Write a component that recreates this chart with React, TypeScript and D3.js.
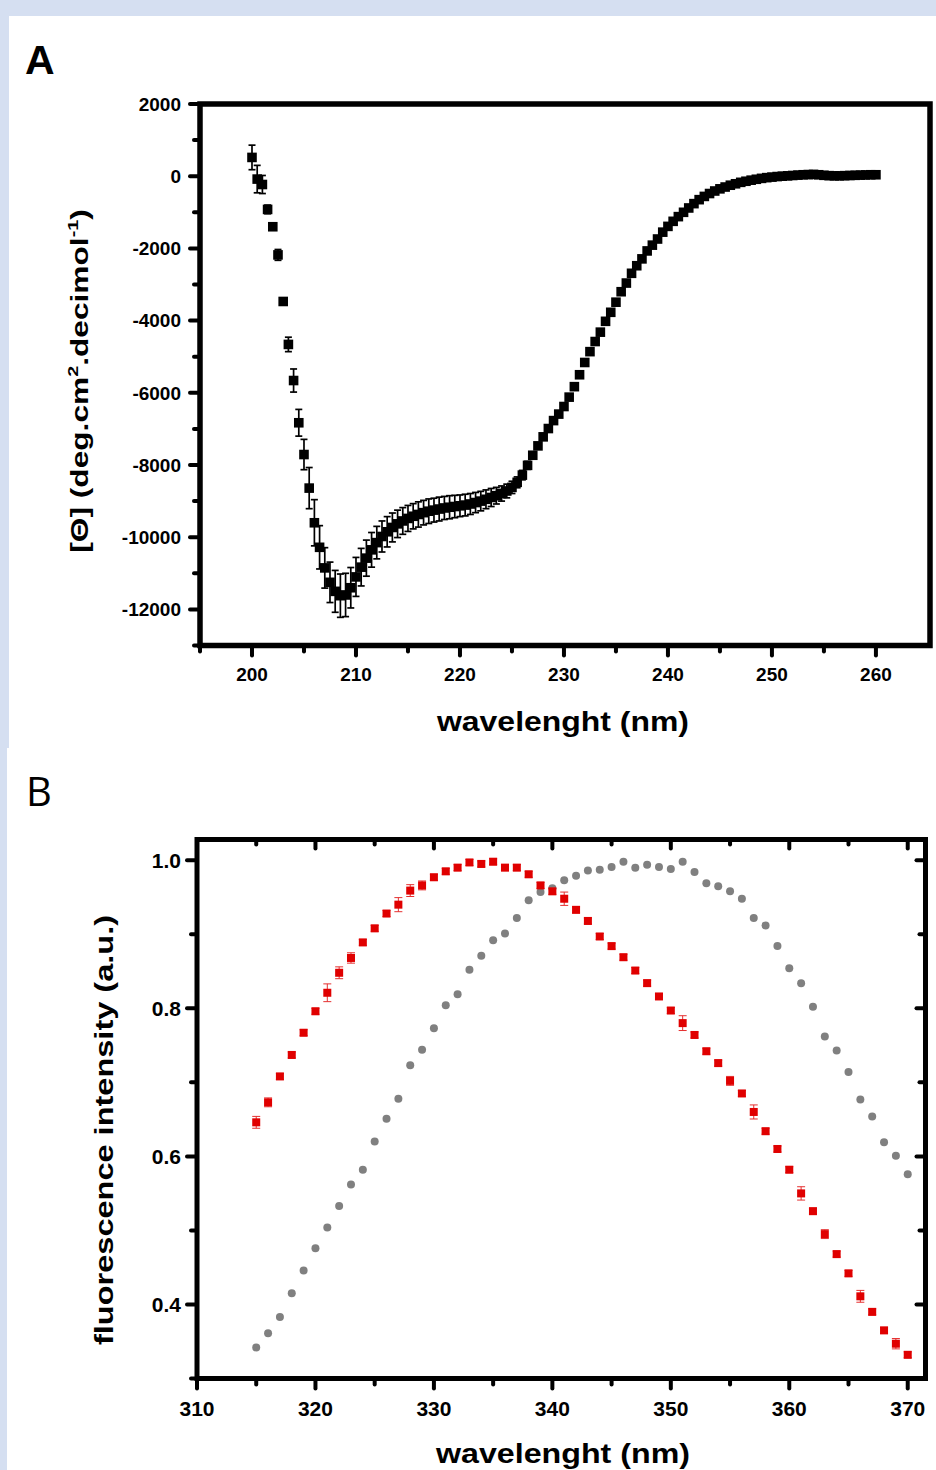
import React from 'react';
import * as d3 from 'd3';

const W = 936;
const H = 1470;

// ---------- Panel A : CD spectrum ----------
const cdWavelengths = d3.range(200, 260.001, 0.5);
const cdEllipticity = [
  520, -80, -230, -920, -1400, -2180, -3470, -4660, -5660, -6830,
  -7710, -8640, -9600, -10280, -10850, -11250, -11500, -11620, -11600, -11400,
  -11100, -10830, -10580, -10350, -10150, -9980, -9850, -9730, -9630, -9550,
  -9480, -9420, -9370, -9320, -9280, -9250, -9220, -9190, -9170, -9150,
  -9130, -9110, -9080, -9040, -9000, -8950, -8900, -8850, -8790, -8720,
  -8620, -8480, -8280, -8010, -7730, -7470, -7220, -6990, -6770, -6590,
  -6380, -6120, -5830, -5500, -5160, -4860, -4580, -4320, -4020, -3770,
  -3490, -3200, -2960, -2690, -2480, -2290, -2070, -1910, -1740, -1550,
  -1390, -1250, -1120, -1000, -880, -760, -650, -560, -480, -410,
  -350, -300, -250, -210, -170, -140, -110, -85, -60, -40,
  -25, -10, 0, 10, 20, 30, 40, 45, 50, 40,
  25, 15, 10, 10, 15, 20, 25, 30, 35, 40,
  40,
];
const cdError = [
  340, 380, 250, 120, 80, 150, 80, 200, 320, 370,
  420, 570, 640, 600, 560, 560, 580, 600, 600, 560,
  540, 520, 500, 480, 450, 430, 420, 400, 380, 370,
  360, 350, 350, 340, 340, 330, 330, 320, 320, 310,
  300, 300, 290, 280, 270, 260, 250, 230, 210, 190,
  170, 150, 130, 110, 90, 80, 70, 60, 50, 50,
  40, 40, 40, 40, 40, 40, 40, 40, 40, 40,
  40, 40, 40, 40, 40, 40, 40, 40, 40, 40,
  40, 40, 40, 40, 40, 40, 40, 40, 40, 40,
  40, 40, 40, 40, 40, 40, 40, 40, 40, 40,
  40, 40, 40, 40, 40, 40, 40, 40, 40, 40,
  40, 40, 40, 40, 40, 40, 40, 40, 40, 40,
  40,
];
const cdYTickLabels = [2000, 0, -2000, -4000, -6000, -8000, -10000, -12000];
const cdYMinorTicks = [1000, -1000, -3000, -5000, -7000, -9000, -11000, -13000];
const cdXTickLabels = [200, 210, 220, 230, 240, 250, 260];
const cdXMinorTicks = [195, 205, 215, 225, 235, 245, 255];

// ---------- Panel B : fluorescence ----------
const flWavelengths = d3.range(315, 370.001, 1);
const flRed = [
  0.646, 0.673, 0.708, 0.737, 0.767, 0.796, 0.821, 0.848, 0.868, 0.889,
  0.908, 0.928, 0.940, 0.959, 0.966, 0.977, 0.985, 0.990, 0.997, 0.995,
  0.998, 0.990, 0.990, 0.981, 0.966, 0.958, 0.948, 0.933, 0.918, 0.897,
  0.884, 0.869, 0.851, 0.834, 0.816, 0.797, 0.780, 0.764, 0.742, 0.726,
  0.702, 0.685, 0.660, 0.634, 0.610, 0.582, 0.550, 0.526, 0.495, 0.468,
  0.442, 0.411, 0.390, 0.365, 0.347, 0.332,
];
const flRedErr = [
  0.008, 0.006, 0.004, 0.004, 0.004, 0.004, 0.012, 0.008, 0.007, 0.004,
  0.004, 0.004, 0.0095, 0.008, 0.006, 0.004, 0.004, 0.004, 0.004, 0.004,
  0.004, 0.004, 0.004, 0.004, 0.004, 0.004, 0.009, 0.004, 0.004, 0.004,
  0.004, 0.004, 0.004, 0.004, 0.004, 0.004, 0.010, 0.004, 0.004, 0.004,
  0.006, 0.004, 0.0095, 0.004, 0.004, 0.004, 0.009, 0.004, 0.006, 0.004,
  0.004, 0.008, 0.004, 0.004, 0.007, 0.004,
];
const flGray = [
  0.342, 0.361, 0.383, 0.415, 0.446, 0.476, 0.504, 0.533, 0.562, 0.582,
  0.620, 0.651, 0.678, 0.723, 0.744, 0.773, 0.804, 0.819, 0.852, 0.871,
  0.892, 0.901, 0.922, 0.946, 0.957, 0.962, 0.973, 0.979, 0.986, 0.987,
  0.991, 0.998, 0.990, 0.994, 0.991, 0.988, 0.998, 0.984, 0.969, 0.965,
  0.958, 0.948, 0.922, 0.912, 0.884, 0.854, 0.834, 0.802, 0.762, 0.743,
  0.714, 0.677, 0.654, 0.619, 0.601, 0.576,
];
const flYTickLabels = [0.4, 0.6, 0.8, 1.0];
const flYMinorTicks = [0.3, 0.5, 0.7, 0.9];
const flXTickLabels = [310, 320, 330, 340, 350, 360, 370];
const flXMinorTicks = [315, 325, 335, 345, 355, 365];

const FONT = "'Liberation Sans', Arial, sans-serif";
const BG = '#d5dff1';

export default function App() {
  const xA = d3.scaleLinear().domain([195, 265.2]).range([200, 930]);
  const yA = d3.scaleLinear().domain([-13000, 2000]).range([645.5, 104]);
  const xB = d3.scaleLinear().domain([310, 371.5]).range([197, 925.5]);
  const yB = d3.scaleLinear().domain([0.3, 1.028]).range([1378.5, 839.5]);

  const [aL, aR] = xA.range();
  const [aB, aT] = yA.range();
  const [bL, bR] = xB.range();
  const [bB, bT] = yB.range();

  const fmtB = d3.format('.1f');

  return (
    <svg
      width={W}
      height={H}
      viewBox={`0 0 ${W} ${H}`}
      style={{ position: 'absolute', left: 0, top: 0, display: 'block' }}
      fontFamily={FONT}
    >
      <rect x={0} y={0} width={W} height={H} fill={BG} />
      <rect x={9} y={16} width={W - 9} height={732} fill="#fff" />
      <rect x={7} y={748} width={W - 7} height={H - 748} fill="#fff" />

      {/* ================= Panel A ================= */}
      <text x={25} y={74} fontSize={41} fontWeight="bold" fill="#000">A</text>

      <g stroke="#000" strokeWidth={1.7}>
        {cdWavelengths.map((w, i) => {
          const cx = xA(w);
          const y1 = yA(cdEllipticity[i] + cdError[i]);
          const y2 = yA(cdEllipticity[i] - cdError[i]);
          return (
            <g key={'ea' + i}>
              <line x1={cx} x2={cx} y1={y1} y2={y2} />
              <line x1={cx - 3.5} x2={cx + 3.5} y1={y1} y2={y1} />
              <line x1={cx - 3.5} x2={cx + 3.5} y1={y2} y2={y2} />
            </g>
          );
        })}
      </g>
      <g fill="#000">
        {cdWavelengths.map((w, i) => (
          <rect key={'ma' + i} x={xA(w) - 4.8} y={yA(cdEllipticity[i]) - 4.8} width={9.6} height={9.6} />
        ))}
      </g>

      <rect x={aL} y={aT} width={aR - aL} height={aB - aT} fill="none" stroke="#000" strokeWidth={5.5} />
      <g stroke="#000" strokeWidth={4} strokeLinecap="round">
        {cdYTickLabels.map((v) => (
          <line key={'ayt' + v} x1={aL - 10} x2={aL} y1={yA(v)} y2={yA(v)} />
        ))}
        {cdYMinorTicks.map((v) => (
          <line key={'aym' + v} x1={aL - 6} x2={aL} y1={yA(v)} y2={yA(v)} />
        ))}
        {cdXTickLabels.map((v) => (
          <line key={'axt' + v} x1={xA(v)} x2={xA(v)} y1={aB} y2={aB + 10} />
        ))}
        {cdXMinorTicks.map((v) => (
          <line key={'axm' + v} x1={xA(v)} x2={xA(v)} y1={aB} y2={aB + 6} />
        ))}
      </g>
      <g fontSize={19} fontWeight="bold" fill="#000">
        {cdYTickLabels.map((v) => (
          <text key={'ayl' + v} x={181} y={yA(v)} dy="0.36em" textAnchor="end">{v}</text>
        ))}
        {cdXTickLabels.map((v) => (
          <text key={'axl' + v} x={xA(v)} y={681} textAnchor="middle">{v}</text>
        ))}
      </g>
      <text x={563} y={731} fontSize={27} fontWeight="bold" textAnchor="middle" textLength={252} lengthAdjust="spacingAndGlyphs">wavelenght (nm)</text>
      <g transform="translate(88,381) rotate(-90) scale(1.32,1)">
        <text x={0} y={0} fontSize={24} fontWeight="bold" textAnchor="middle">
          [Θ] (deg.cm<tspan fontSize={15} dy={-10}>2</tspan><tspan dy={10}>.decimol</tspan><tspan fontSize={15} dy={-10}>-1</tspan><tspan dy={10}>)</tspan>
        </text>
      </g>

      {/* ================= Panel B ================= */}
      <text x={26} y={806} fontSize={40} fontFamily="'Open Sans', 'Noto Sans', sans-serif" fill="#000">B</text>

      <g stroke="#e53030" strokeWidth={1}>
        {flWavelengths.map((w, i) => {
          const cx = xB(w);
          const y1 = yB(flRed[i] + flRedErr[i]);
          const y2 = yB(flRed[i] - flRedErr[i]);
          return (
            <g key={'eb' + i}>
              <line x1={cx} x2={cx} y1={y1} y2={y2} />
              <line x1={cx - 4} x2={cx + 4} y1={y1} y2={y1} />
              <line x1={cx - 4} x2={cx + 4} y1={y2} y2={y2} />
            </g>
          );
        })}
      </g>
      <g fill="#808080">
        {flWavelengths.map((w, i) => (
          <circle key={'gc' + i} cx={xB(w)} cy={yB(flGray[i])} r={4} />
        ))}
      </g>
      <g fill="#e00000">
        {flWavelengths.map((w, i) => (
          <rect key={'rs' + i} x={xB(w) - 4} y={yB(flRed[i]) - 4} width={8} height={8} />
        ))}
      </g>

      <rect x={bL} y={bT} width={bR - bL} height={bB - bT} fill="none" stroke="#000" strokeWidth={5} />
      <g stroke="#000" strokeWidth={4} strokeLinecap="round">
        {flYTickLabels.map((v) => (
          <g key={'byt' + v}>
            <line x1={bL - 10} x2={bL} y1={yB(v)} y2={yB(v)} />
            <line x1={bR} x2={bR - 9} y1={yB(v)} y2={yB(v)} />
          </g>
        ))}
        {flYMinorTicks.map((v) => (
          <g key={'bym' + v}>
            <line x1={bL - 6} x2={bL} y1={yB(v)} y2={yB(v)} />
            <line x1={bR} x2={bR - 6} y1={yB(v)} y2={yB(v)} />
          </g>
        ))}
        {flXTickLabels.map((v) => (
          <g key={'bxt' + v}>
            <line x1={xB(v)} x2={xB(v)} y1={bB} y2={bB + 10} />
            <line x1={xB(v)} x2={xB(v)} y1={bT} y2={bT + 9} />
          </g>
        ))}
        {flXMinorTicks.map((v) => (
          <g key={'bxm' + v}>
            <line x1={xB(v)} x2={xB(v)} y1={bB} y2={bB + 6} />
            <line x1={xB(v)} x2={xB(v)} y1={bT} y2={bT + 5} />
          </g>
        ))}
      </g>
      <g fontSize={21} fontWeight="bold" fill="#000">
        {flYTickLabels.map((v) => (
          <text key={'byl' + v} x={181} y={yB(v)} dy="0.36em" textAnchor="end">{fmtB(v)}</text>
        ))}
        {flXTickLabels.map((v) => (
          <text key={'bxl' + v} x={xB(v)} y={1416} textAnchor="middle">{v}</text>
        ))}
      </g>
      <text x={563} y={1463} fontSize={27} fontWeight="bold" textAnchor="middle" textLength={254} lengthAdjust="spacingAndGlyphs">wavelenght (nm)</text>
      <text transform="translate(113,1130) rotate(-90)" x={0} y={0} fontSize={25} fontWeight="bold" textAnchor="middle" textLength={430} lengthAdjust="spacingAndGlyphs">fluorescence intensity (a.u.)</text>
    </svg>
  );
}
